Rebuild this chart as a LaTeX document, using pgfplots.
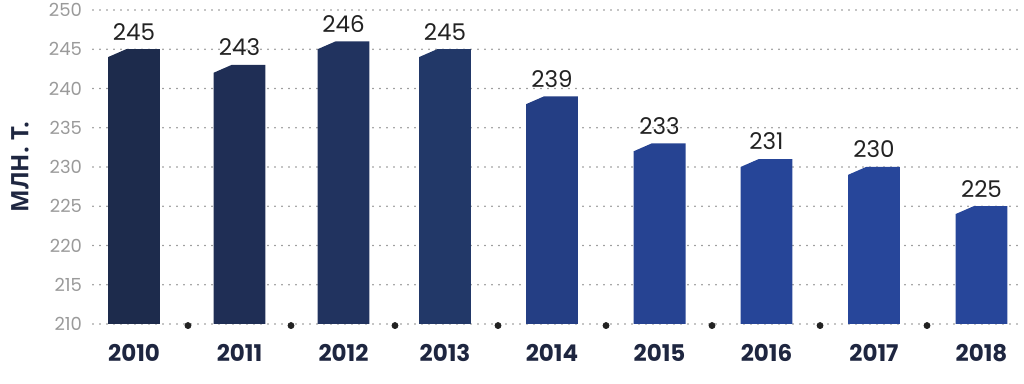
\documentclass[border=0pt]{standalone}
\usepackage{pgfplots}
\usepackage{pgfplotstable}
\pgfplotsset{compat=1.18}
\usepackage{fontspec}
\setmainfont{Poppins}
\newfontfamily\cyr{Open Sans}
\definecolor{c0}{HTML}{1D2B4C}
\definecolor{c1}{HTML}{1F2E55}
\definecolor{c2}{HTML}{21335F}
\definecolor{c3}{HTML}{223868}
\definecolor{c4}{HTML}{243E84}
\definecolor{c5}{HTML}{264392}
\definecolor{c6}{HTML}{264598}
\definecolor{c7}{HTML}{27469A}
\definecolor{c8}{HTML}{27469A}
\definecolor{txt}{HTML}{222222}
\definecolor{navy}{HTML}{1E2640}
\definecolor{tickc}{HTML}{9A9A9A}
\definecolor{gridc}{HTML}{8A8A8A}
\pgfplotstableread{
x v
0 245
0.995 243
1.976 246
2.934 245
3.943 239
4.958 233
5.967 231
6.981 230
7.995 225
}\data
\begin{document}
\begin{tikzpicture}
\begin{axis}[
  at={(0,0)}, anchor=south west,
  scale only axis, width=465.5pt, height=157pt,
  xmin=-0.387, xmax=8.396, ymin=210, ymax=250,
  ytick={210,215,...,250},
  xtick={0,0.995,1.976,2.934,3.943,4.958,5.967,6.981,7.995},
  xticklabels={2010,2011,2012,2013,2014,2015,2016,2017,2018},
  axis line style={draw=none},
  major tick length=0pt,
  ymajorgrids, xmajorgrids=false,
  grid style={draw=gridc, line width=0.9pt, dash pattern=on 0pt off 3.5pt, line cap=round},
  /pgf/number format/assume math mode=true,
  yticklabel style={font=\fontsize{9}{10}\selectfont, text=tickc, xshift=-2pt},
  xticklabel style={font=\fontsize{11.5}{12}\selectfont\bfseries, text=navy, yshift=-6.5pt},
  ylabel={\cyr\bfseries МЛН. Т.},
  ylabel style={at={(axis description cs:-0.0784,0.5)}, anchor=center, font=\fontsize{12}{12}\selectfont, text=navy},
  clip=false,
]
\pgfplotsinvokeforeach{0,...,8}{
  \pgfplotstablegetelem{#1}{v}\of\data
  \let\val\pgfplotsretval
  \pgfplotstablegetelem{#1}{x}\of\data
  \let\xc\pgfplotsretval
  \pgfmathsetmacro\xl{\xc-0.245}
  \pgfmathsetmacro\xr{\xc+0.245}
  \pgfmathsetmacro\xs{\xc-0.245+0.17}
  \pgfmathsetmacro\vl{\val-1}
  \edef\temp{\noexpand\addplot[fill=c#1, draw=none] coordinates {(\xl,210) (\xl,\vl) (\xs,\val) (\xr,\val) (\xr,210)} -- cycle;}
  \temp
}
\addplot[only marks, mark=none, nodes near coords,
  nodes near coords style={font=\fontsize{11.5}{12}\selectfont, text=txt, anchor=south, yshift=1pt, /pgf/number format/assume math mode=true}]
  table[x=x, y=v] {\data};
\addplot[only marks, mark=*, mark size=1.5pt, color=txt]
  coordinates {(0.509,209.8) (1.481,209.8) (2.462,209.8) (3.434,209.8) (4.453,209.8) (5.453,209.8) (6.472,209.8) (7.481,209.8)};
\end{axis}
\pgfresetboundingbox
\path (-46.5pt,-30pt) rectangle (465.5pt,162pt);
\end{tikzpicture}
\end{document}
